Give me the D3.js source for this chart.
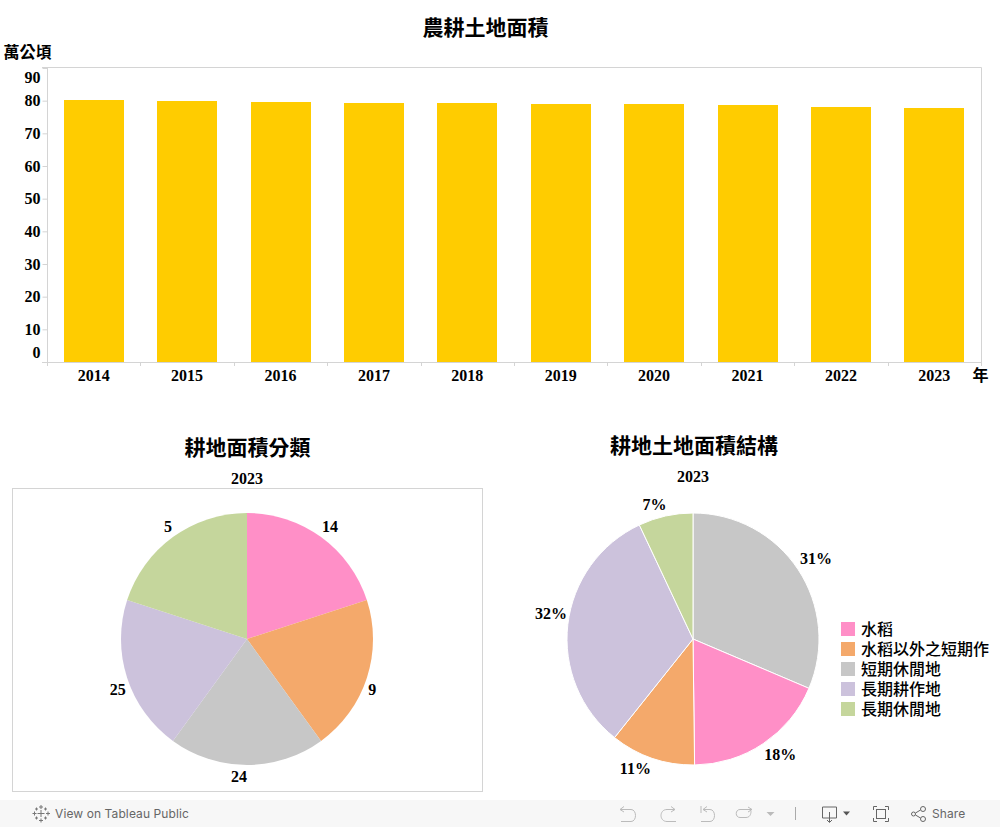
<!DOCTYPE html>
<html>
<head>
<meta charset="utf-8">
<title>農耕土地面積</title>
<script src="https://cdn.jsdelivr.net/npm/d3@7"></script>
<style>
html, body { margin: 0; padding: 0; background: #fff; overflow: hidden; }
.cjk { font-family: "Noto Sans CJK TC", sans-serif; font-weight: 700; fill: #000; }
.num { font-family: "Liberation Serif", serif; font-weight: 700; font-size: 16px; fill: #000; }
.bar-text { font-family: "Inter", sans-serif; font-size: 12px; letter-spacing: 0.1px; fill: #666; }
</style>
</head>
<body>
<div id="chart"></div>
<script>
var years = ["2014", "2015", "2016", "2017", "2018", "2019", "2020", "2021", "2022", "2023"];
var areas = [80.1, 79.8, 79.5, 79.4, 79.2, 79.1, 79.1, 78.8, 78.2, 77.9];
var yTicks = [0, 10, 20, 30, 40, 50, 60, 70, 80, 90];

// first pie: every slice is the same size, the labels carry the numbers
var classNames = ["水稻", "水稻以外之短期作", "短期休閒地", "長期耕作地", "長期休閒地"];
var classColors = ["#ff8fc7", "#f4a96b", "#c7c7c7", "#ccc2dc", "#c5d69c"];
var classSlices = [1, 1, 1, 1, 1];
var classLabels = [14, 9, 24, 25, 5];

// second pie starts with the grey slice
var structNames = ["短期休閒地", "水稻", "水稻以外之短期作", "長期耕作地", "長期休閒地"];
var structShares = [31.4, 18.4, 10.9, 32.3, 7.0];

function init()
{
    var w = 1000;
    var h = 827;
    var line = "#d4d4d4";

    var svg = d3.select("#chart")
                .append("svg")
                .attr("width", w)
                .attr("height", h)
                .style("display", "block");

    function title(text, x, y, size)
    {
        svg.append("text")
            .attr("class", "cjk")
            .attr("x", x)
            .attr("y", y)
            .attr("text-anchor", "middle")
            .style("font-size", size + "px")
            .text(text);
    }

    function yearLabel(text, px, py)
    {
        svg.append("text")
            .attr("class", "num")
            .attr("x", px)
            .attr("y", py)
            .attr("text-anchor", "middle")
            .text(text);
    }

    title("農耕土地面積", 485.5, 35, 21);
    title("萬公頃", 27.5, 58, 16);
    title("年", 980.5, 381, 16);
    title("耕地面積分類", 247.5, 455, 21);
    title("耕地土地面積結構", 694, 453, 21);

    // bar chart
    var left = 47, right = 981, top = 68, bottom = 362;

    var x = d3.scaleBand().domain(years).range([left, right]);
    var y = d3.scaleLinear().domain([0, 90]).range([bottom, top]);

    svg.selectAll("rect.bar")
        .data(areas)
        .enter()
        .append("rect")
        .attr("class", "bar")
        .attr("x", function(d, i) {
          return Math.round(x(years[i]) + (x.bandwidth() - 60) / 2);
        })
        .attr("y", function(d) {
          return Math.round(y(d));
        })
        .attr("width", 60)
        .attr("height", function(d) {
          return bottom - Math.round(y(d));
        })
        .style("fill", "#ffcc00");

    var yAxis = svg.append("g")
        .attr("transform", "translate(" + (left + 0.5) + ",0)")
        .call(d3.axisLeft(y).tickValues(yTicks).tickSize(5).tickPadding(2));
    yAxis.select(".domain").remove();
    yAxis.selectAll("line").attr("stroke", line);
    yAxis.selectAll("text")
        .attr("class", "num")
        .attr("dy", function(d) {
          // the two end labels are pushed inside the plot
          if (d === 0) return "-0.27em";
          if (d === 90) return "0.92em";
          return "0.32em";
        });

    var xAxis = svg.append("g")
        .attr("transform", "translate(0," + (bottom + 0.5) + ")")
        .call(d3.axisBottom(x).tickSize(0).tickPadding(7));
    xAxis.select(".domain").remove();
    xAxis.selectAll("text").attr("class", "num");

    // separators between the years
    svg.selectAll("line.sep")
        .data(years.concat(["end"]))
        .enter()
        .append("line")
        .attr("class", "sep")
        .attr("x1", function(d, i) {
          return i < years.length ? Math.round(x(d)) + 0.5 : right + 0.5;
        })
        .attr("x2", function(d, i) {
          return i < years.length ? Math.round(x(d)) + 0.5 : right + 0.5;
        })
        .attr("y1", bottom)
        .attr("y2", bottom + 4)
        .attr("stroke", line);

    // plot frame
    svg.append("path")
        .attr("d", "M42," + (top - 0.5) + "H" + (right + 0.5) + "V" + (bottom + 0.5) + "H42" +
                   "M" + (left + 0.5) + "," + (top - 1) + "V" + bottom)
        .attr("fill", "none")
        .attr("stroke", line);

    // first pie
    svg.append("rect")
        .attr("x", 12.5)
        .attr("y", 488.5)
        .attr("width", 470)
        .attr("height", 303)
        .attr("fill", "none")
        .attr("stroke", line);

    yearLabel("2023", 247, 484);
    yearLabel("2023", 693, 482);

    var radius = 126;
    var pie = d3.pie().sort(null);
    var arc = d3.arc().innerRadius(0).outerRadius(radius);

    var pieA = svg.append("g").attr("transform", "translate(247,639)");
    var labelA = d3.arc().innerRadius(138).outerRadius(138);
    // tableau moves the labels off the mid-angle a little
    var nudgeA = [[2, 0], [-6, 8], [-8, 0], [2, 8], [2, 0]];

    pieA.selectAll("path")
        .data(pie(classSlices))
        .enter()
        .append("path")
        .attr("d", arc)
        .attr("fill", function(d, i) {
          return classColors[i];
        });

    pieA.selectAll("text")
        .data(pie(classSlices))
        .enter()
        .append("text")
        .attr("class", "num")
        .attr("text-anchor", "middle")
        .attr("dy", "0.32em")
        .attr("transform", function(d, i) {
          var c = labelA.centroid(d);
          return "translate(" + (c[0] + nudgeA[i][0]) + "," + (c[1] + nudgeA[i][1]) + ")";
        })
        .text(function(d, i) {
          return classLabels[i];
        });

    // second pie
    var pieB = svg.append("g").attr("transform", "translate(693,639)");
    var labelB = d3.arc().innerRadius(144).outerRadius(144);
    var nudgeB = [[3, -1], [7, -4], [-11, -6], [1, -8], [-7, 6]];

    pieB.selectAll("path")
        .data(pie(structShares))
        .enter()
        .append("path")
        .attr("d", arc)
        .attr("stroke", "#fff")
        .attr("stroke-width", 1)
        .attr("fill", function(d, i) {
          return classColors[classNames.indexOf(structNames[i])];
        });

    pieB.selectAll("text")
        .data(pie(structShares))
        .enter()
        .append("text")
        .attr("class", "num")
        .attr("text-anchor", "middle")
        .attr("dy", "0.32em")
        .attr("transform", function(d, i) {
          var c = labelB.centroid(d);
          return "translate(" + (c[0] + nudgeB[i][0]) + "," + (c[1] + nudgeB[i][1]) + ")";
        })
        .text(function(d, i) {
          return Math.round(structShares[i]) + "%";
        });

    // legend
    var legend = svg.selectAll("g.legend")
        .data(classNames)
        .enter()
        .append("g")
        .attr("class", "legend")
        .attr("transform", function(d, i) {
          return "translate(841," + (622 + i * 20) + ")";
        });

    legend.append("rect")
        .attr("width", 14)
        .attr("height", 14)
        .attr("fill", function(d, i) {
          return classColors[i];
        });

    legend.append("text")
        .attr("x", 20)
        .attr("y", 12.5)
        .style("font-family", "\"Noto Sans CJK TC\", sans-serif")
        .style("font-weight", 500)
        .style("font-size", "16px")
        .text(function(d) {
          return d;
        });

    drawToolbar();

    // tableau viewer strip along the bottom
    function drawToolbar()
    {
        var bar = svg.append("g");
        bar.append("rect")
            .attr("x", 0)
            .attr("y", 800)
            .attr("width", w)
            .attr("height", 27)
            .attr("fill", "#f7f7f7");

        bar.append("text").attr("class", "bar-text").attr("x", 55).attr("y", 818).text("View on Tableau Public");
        bar.append("text").attr("class", "bar-text").attr("x", 932).attr("y", 818).text("Share");

        // logo crosses
        var logo = bar.append("g").attr("stroke", "#777").attr("fill", "none");
        [[41, 807, 2], [41, 820.5, 2], [34.5, 813.5, 2], [48, 813.5, 2], [41, 813.5, 3.5],
         [36.5, 809, 1.5], [45.5, 809, 1.5], [36.5, 818, 1.5], [45.5, 818, 1.5]]
            .forEach(function(c) {
              logo.append("path").attr("d", "M" + (c[0] - c[2]) + "," + c[1] + "H" + (c[0] + c[2]) + "M" + c[0] + "," + (c[1] - c[2]) + "V" + (c[1] + c[2]));
            });

        // undo, redo, revert, refresh
        var icons = bar.append("g")
            .attr("fill", "none")
            .attr("stroke", "#bbb")
            .attr("stroke-width", 1);
        icons.append("path").attr("d", "M620,809.5H631C637,809.5 637,821.5 631,821.5H621M620,809.5L624,806.5M620,809.5L624,812");
        icons.append("path").attr("d", "M675,809.5H667C659,809.5 659,821.5 667,821.5H676M675,809.5L671,806.5M675,809.5L671,812");
        icons.append("path").attr("d", "M701,806V813M703,809.5H710C716,809.5 716,821.5 710,821.5H701M703,809.5L707,806.5M703,809.5L707,812");
        icons.append("path").attr("d", "M752,809.5H740C735,809.5 735,817.5 740,817.5H746C751,817.5 751,812 751,811M752,809.5L748,807M752,809.5L748,812");
        icons.append("path").attr("d", "M795.5,807V820").attr("stroke", "#aaa");
        bar.append("path").attr("d", "M766.5,812H774.5L770.5,816Z").attr("fill", "#bbb");

        var dark = bar.append("g")
            .attr("fill", "none")
            .attr("stroke", "#666")
            .attr("stroke-width", 1);
        dark.append("path").attr("d", "M829,818H822.5V807H836.5V818H830M829.5,812V822M827,820L829.5,822.5L832,820");
        bar.append("path").attr("d", "M843,811.5H850L846.5,815.5Z").attr("fill", "#555");
        dark.append("path").attr("d", "M873.5,810V806.5H877M885,806.5H888.5V810M888.5,818V821.5H885M877,821.5H873.5V818");
        dark.append("rect").attr("x", 876.5).attr("y", 809.5).attr("width", 9).attr("height", 9);
        dark.append("circle").attr("cx", 913.5).attr("cy", 814).attr("r", 2);
        dark.append("circle").attr("cx", 923).attr("cy", 809).attr("r", 2.5);
        dark.append("circle").attr("cx", 923).attr("cy", 819).attr("r", 2.5);
        dark.append("path").attr("d", "M915.5,813L920.5,810M915.5,815L920.5,818");
    }
}
window.onload = init;
</script>
</body>
</html>
